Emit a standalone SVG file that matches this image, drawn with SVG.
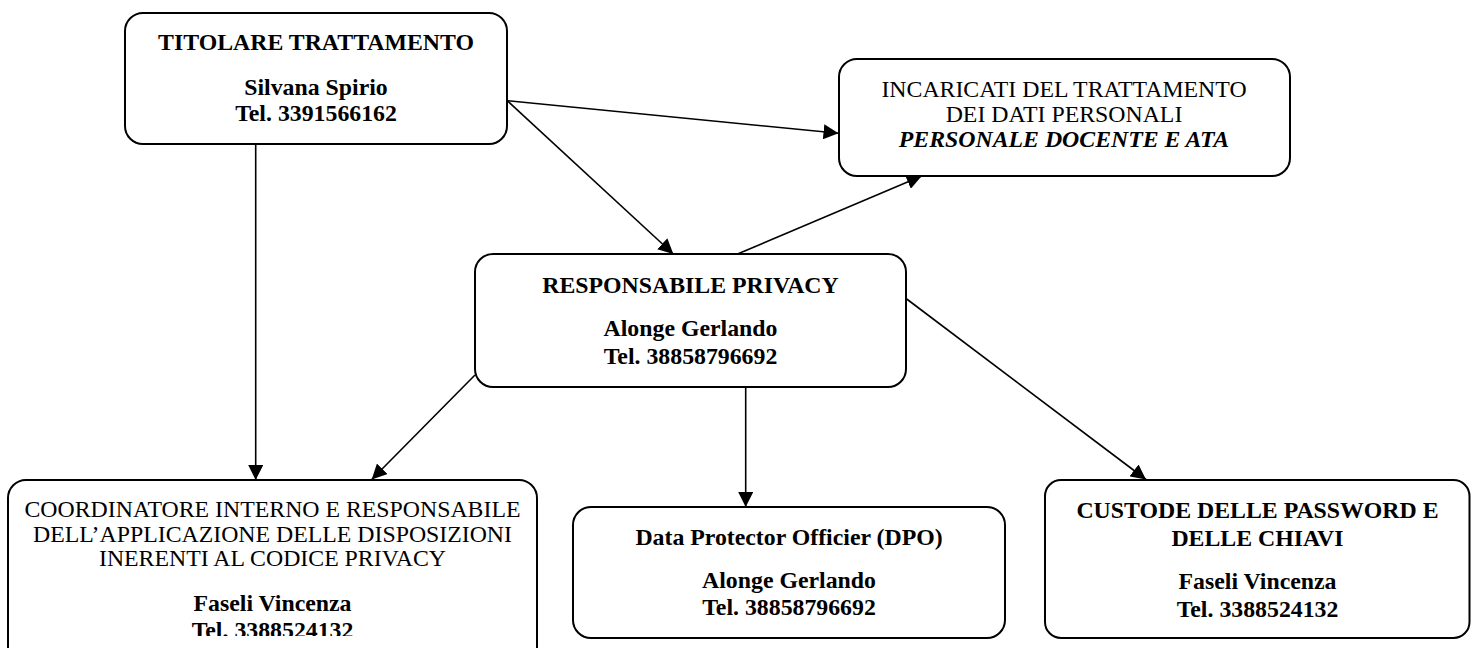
<svg xmlns="http://www.w3.org/2000/svg" width="1471" height="648" viewBox="0 0 1471 648">
<style>
.box{fill:#fff;stroke:#000;stroke-width:2}
.t{font-family:"Liberation Serif","Times New Roman",serif;font-size:23.8px;fill:#000;text-anchor:middle}
.b{font-weight:bold}
.bi{font-weight:bold;font-style:italic}
.c{stroke:#000;stroke-width:1.6;fill:none;marker-end:url(#ah)}
</style>
<defs>
<marker id="ah" markerUnits="userSpaceOnUse" markerWidth="15" markerHeight="15" refX="15" refY="7.5" orient="auto">
<path d="M0,0 L15,7.5 L0,15 z" fill="#000"/>
</marker>
<clipPath id="clipCoord"><rect x="0" y="470" width="560" height="166"/></clipPath>
</defs>
<rect width="1471" height="648" fill="#fff"/>
<g id="titolare">
<rect class="box" x="125" y="13" width="382" height="131" rx="18"/>
<text class="t b" x="316" y="50">TITOLARE TRATTAMENTO</text>
<text class="t b" x="316" y="95">Silvana Spirio</text>
<text class="t b" x="316" y="121">Tel. 3391566162</text>
</g>
<g id="incaricati">
<rect class="box" x="839" y="59" width="451" height="117" rx="18"/>
<text class="t" x="1064" y="97">INCARICATI DEL TRATTAMENTO</text>
<text class="t" x="1064" y="121.5">DEI DATI PERSONALI</text>
<text class="t bi" x="1064" y="146.5">PERSONALE DOCENTE E ATA</text>
</g>
<g id="responsabile">
<rect class="box" x="475" y="254" width="431" height="133" rx="18"/>
<text class="t b" x="690.5" y="293">RESPONSABILE PRIVACY</text>
<text class="t b" x="690.5" y="336">Alonge Gerlando</text>
<text class="t b" x="690.5" y="363.5">Tel. 38858796692</text>
</g>
<g id="coordinatore">
<rect class="box" x="8" y="480" width="529" height="185" rx="18"/>
<g clip-path="url(#clipCoord)">
<text class="t" x="272.5" y="517">COORDINATORE INTERNO E RESPONSABILE</text>
<text class="t" x="272.5" y="541.5">DELL’APPLICAZIONE DELLE DISPOSIZIONI</text>
<text class="t" x="272.5" y="566">INERENTI AL CODICE PRIVACY</text>
<text class="t b" x="272.5" y="610.5">Faseli Vincenza</text>
<text class="t b" x="272.5" y="638">Tel. 3388524132</text>
</g>
</g>
<g id="dpo">
<rect class="box" x="573" y="507" width="432" height="131" rx="18"/>
<text class="t b" x="789" y="545">Data Protector Officier (DPO)</text>
<text class="t b" x="789" y="587.5">Alonge Gerlando</text>
<text class="t b" x="789" y="615">Tel. 38858796692</text>
</g>
<g id="custode">
<rect class="box" x="1045" y="480" width="424.5" height="158" rx="16"/>
<text class="t b" x="1257.5" y="518">CUSTODE DELLE PASSWORD E</text>
<text class="t b" x="1257.5" y="546">DELLE CHIAVI</text>
<text class="t b" x="1257.5" y="589">Faseli Vincenza</text>
<text class="t b" x="1257.5" y="616.5">Tel. 3388524132</text>
</g>
<g id="connectors">
<line class="c" x1="255.7" y1="144" x2="255.7" y2="480"/>
<line class="c" x1="507.3" y1="100.7" x2="838.5" y2="133.3"/>
<line class="c" x1="507.3" y1="100.7" x2="673.3" y2="254"/>
<line class="c" x1="737.5" y1="254" x2="921.7" y2="176"/>
<line class="c" x1="475" y1="375" x2="371.7" y2="479.5"/>
<line class="c" x1="745.7" y1="387" x2="745.7" y2="507"/>
<line class="c" x1="906.7" y1="299" x2="1146" y2="479.5"/>
</g>
</svg>
